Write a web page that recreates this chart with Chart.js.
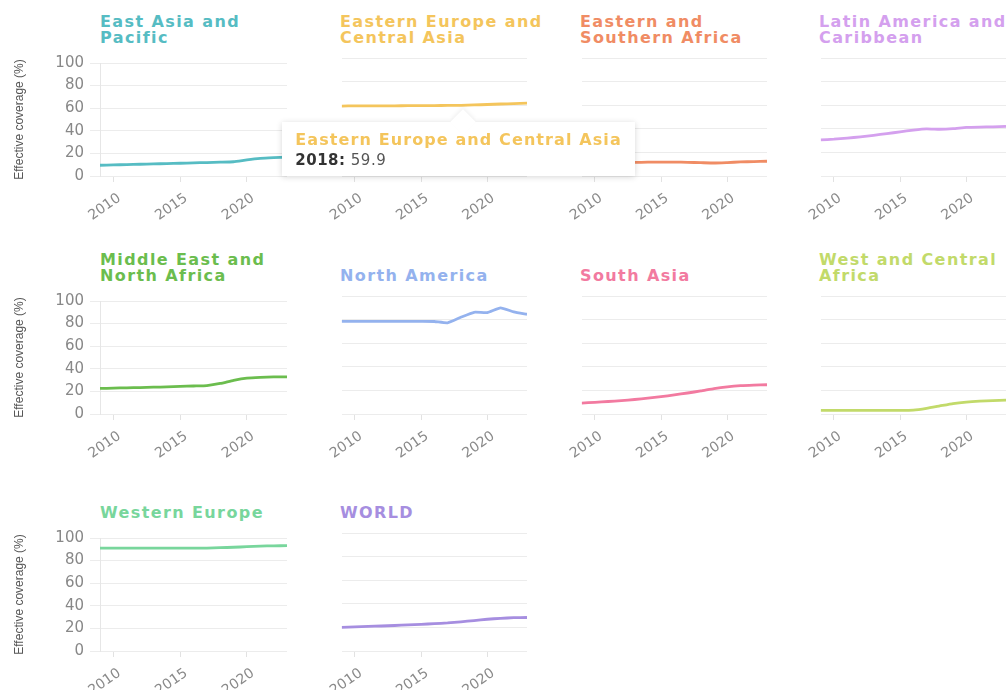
<!DOCTYPE html>
<html>
<head>
<meta charset="utf-8">
<script src="https://cdn.jsdelivr.net/npm/chart.js@4.4.1/dist/chart.umd.min.js"></script>
<style>
  html, body { margin: 0; padding: 0; background: #fff; overflow: hidden; }
  #app { position: relative; width: 1008px; height: 690px; }
  .panel { position: absolute; }
  .panel-title {
    position: absolute; height: 32px; display: flex; flex-direction: column; justify-content: flex-end;
    font-family: 'DejaVu Sans'; font-weight: bold; font-size: 16px; line-height: 16px;
    letter-spacing: 1.4px; white-space: nowrap;
  }
  #tip { position: absolute; z-index: 10; display: none; font-family: 'DejaVu Sans'; }
  #tip .tip-box { position: relative; background: #fff; padding: 10px 13px 6px; box-shadow: 0 1px 6px rgba(0,0,0,0.16); white-space: nowrap; }
  #tip .tip-caret { position: absolute; top: -9px; width: 18px; height: 18px; background: #fff; transform: rotate(45deg); box-shadow: -2px -2px 4px rgba(0,0,0,0.05); }
  .tip-title { font-weight: bold; font-size: 16px; line-height: 16px; letter-spacing: 1.1px; }
  .tip-body { margin-top: 2px; font-size: 15px; line-height: 20px; color: #555; letter-spacing: 0.5px; }
  .tip-year { font-weight: bold; color: #333; }
</style>
</head>
<body>
<div id="app">
  <div id="tip">
    <div class="tip-box">
      <div class="tip-title"></div>
      <div class="tip-body"><span class="tip-year"></span><span class="tip-value"></span></div>
    </div>
    <div class="tip-caret"></div>
  </div>
</div>
<script>
// data
const years = [2009, 2010, 2011, 2012, 2013, 2014, 2015, 2016, 2017, 2018, 2019, 2020, 2021, 2022, 2023];
const xTicks = [2010, 2015, 2020];
const yTicks = [0, 20, 40, 60, 80, 100];

const regions = [
  'East Asia and Pacific', 'Eastern Europe and Central Asia', 'Eastern and Southern Africa', 'Latin America and Caribbean',
  'Middle East and North Africa', 'North America', 'South Asia', 'West and Central Africa',
  'Western Europe', 'WORLD'
];
const titleLines = [
  ['East Asia and', 'Pacific'], ['Eastern Europe and', 'Central Asia'], ['Eastern and', 'Southern Africa'], ['Latin America and', 'Caribbean'],
  ['Middle East and', 'North Africa'], ['North America'], ['South Asia'], ['West and Central', 'Africa'],
  ['Western Europe'], ['WORLD']
];

const eastAsiaPacific = [9.5, 9.8, 10.1, 10.4, 10.7, 11.0, 11.3, 11.6, 11.9, 12.2, 12.6, 14.3, 15.6, 16.2, 16.6];
const easternEuropeCentralAsia = [59.3, 59.4, 59.4, 59.5, 59.5, 59.6, 59.6, 59.7, 59.8, 59.9, 60.2, 60.6, 61.0, 61.4, 61.8];
const easternSouthernAfrica = [10.6, 10.9, 11.1, 11.3, 11.5, 11.7, 11.8, 11.8, 11.6, 11.3, 11.0, 11.4, 11.9, 12.2, 12.5];
const latinAmericaCaribbean = [30.6, 31.2, 32.1, 33.2, 34.5, 35.9, 37.4, 38.9, 40.0, 39.6, 40.1, 41.2, 41.5, 41.6, 42.0];
const middleEastNorthAfrica = [22.6, 22.9, 23.2, 23.4, 23.7, 24.0, 24.4, 24.8, 25.2, 27.0, 29.8, 31.8, 32.5, 32.8, 32.9];
const northAmerica = [78.5, 78.5, 78.5, 78.5, 78.5, 78.5, 78.5, 78.4, 77.3, 82.0, 86.2, 86.0, 90.0, 86.5, 84.5];
const southAsia = [9.3, 9.9, 10.6, 11.4, 12.3, 13.4, 14.7, 16.2, 17.8, 19.5, 21.5, 23.0, 24.0, 24.5, 24.8];
const westCentralAfrica = [3.0, 3.0, 3.0, 3.0, 3.0, 3.0, 3.0, 3.3, 4.8, 6.8, 8.8, 10.1, 10.9, 11.4, 11.8];
const westernEurope = [91.0, 91.0, 91.0, 91.0, 91.0, 91.0, 91.0, 91.0, 91.1, 91.4, 91.8, 92.3, 92.8, 93.1, 93.2];
const world = [20.0, 20.4, 20.8, 21.2, 21.6, 22.1, 22.6, 23.2, 23.8, 24.7, 25.8, 26.9, 27.7, 28.2, 28.4];

const seriesValues = [
  eastAsiaPacific, easternEuropeCentralAsia, easternSouthernAfrica, latinAmericaCaribbean,
  middleEastNorthAfrica, northAmerica, southAsia, westCentralAfrica, westernEurope, world
];

// tooltip shown in the picture
const tooltipRegion = 1;
const tooltipYear = 2018;

// styles / layout
const regionColors = ['#56bcc3', '#f4c55c', '#f08c64', '#d4a0ee', '#6bbd4e', '#94b2ee', '#f27aa0', '#c2da6a', '#78d69c', '#a68ee0'];
const colLeft = [100, 340, 580, 819];
const rowTop = [58, 296, 533];
const plotW = 187, plotH = 118, padTop = 10, axisH = 50, padRight = 16;

function showTip(context) {
  const { chart, tooltip } = context;
  const tip = document.getElementById('tip');
  if (!tooltip.opacity || !tooltip.dataPoints || !tooltip.dataPoints.length) {
    tip.style.display = 'none';
    return;
  }
  const dp = tooltip.dataPoints[0];
  const title = tip.querySelector('.tip-title');
  title.textContent = dp.dataset.label;
  title.style.color = dp.dataset.borderColor;
  tip.querySelector('.tip-year').textContent = dp.parsed.x + ':';
  tip.querySelector('.tip-value').textContent = ' ' + dp.parsed.y.toFixed(1);
  tip.style.display = 'block';
  const panel = chart.canvas.parentNode;
  const px = panel.offsetLeft + tooltip.caretX;
  const py = panel.offsetTop + tooltip.caretY;
  const w = tip.offsetWidth;
  const left = px - w / 2 - 2;
  tip.style.left = left + 'px';
  tip.style.top = (py + 17) + 'px';
  tip.querySelector('.tip-caret').style.left = (px - left - 7) + 'px';
}

function buildPanel(i) {
  const col = i % 4, row = Math.floor(i / 4);
  const first = col === 0;
  const yW = first ? colLeft[0] : 24;
  const W = yW + plotW + padRight, H = padTop + plotH + axisH;

  const panel = document.createElement('div');
  panel.className = 'panel';
  panel.style.left = (colLeft[col] - yW) + 'px';
  panel.style.top = (rowTop[row] - padTop) + 'px';
  const canvas = document.createElement('canvas');
  canvas.width = W;
  canvas.height = H;
  panel.appendChild(canvas);
  document.getElementById('app').appendChild(panel);

  const title = document.createElement('div');
  title.className = 'panel-title';
  title.style.left = colLeft[col] + 'px';
  title.style.top = (rowTop[row] - 44) + 'px';
  title.style.color = regionColors[i];
  titleLines[i].forEach(line => {
    const span = document.createElement('span');
    span.textContent = line;
    title.appendChild(span);
  });
  document.getElementById('app').appendChild(title);

  return new Chart(canvas, {
    type: 'line',
    data: {
      datasets: [{
        label: regions[i],
        data: years.map((y, k) => ({ x: y, y: seriesValues[i][k] })),
        borderColor: regionColors[i],
        borderWidth: 2.8,
        pointRadius: 0,
        pointHoverRadius: 0,
        tension: 0.15
      }]
    },
    options: {
      responsive: false,
      animation: false,
      devicePixelRatio: 1,
      events: [],
      layout: { padding: { top: padTop, right: padRight, left: 0, bottom: 0 } },
      plugins: {
        legend: { display: false },
        title: { display: false },
        tooltip: { enabled: false, external: showTip }
      },
      scales: {
        x: {
          type: 'linear',
          min: years[0],
          max: years[years.length - 1],
          afterBuildTicks: s => { s.ticks = xTicks.map(v => ({ value: v })); },
          afterFit: s => { s.height = axisH; },
          ticks: {
            color: '#8a8a8a',
            font: { family: 'DejaVu Sans', size: 14 },
            minRotation: 35, maxRotation: 35,
            padding: 8,
            labelOffset: 6,
            callback: v => String(v)
          },
          grid: { drawOnChartArea: false, drawTicks: true, tickLength: 6, color: '#e2e2e2' },
          border: { display: false }
        },
        y: {
          min: 0,
          max: 100,
          afterBuildTicks: s => { s.ticks = yTicks.map(v => ({ value: v })); },
          afterFit: s => { s.width = yW; },
          ticks: { display: first, color: '#888', font: { family: 'DejaVu Sans', size: 15 }, padding: 6 },
          grid: { color: '#ececec', drawTicks: first, tickLength: 10 },
          border: { display: first, color: '#e6e6e6' },
          title: {
            display: first,
            text: 'Effective coverage (%)',
            color: '#555',
            font: { family: "'Liberation Sans Narrow', 'Liberation Sans'", size: 12 },
            padding: { top: 12, bottom: 0 }
          }
        }
      }
    }
  });
}

const charts = regions.map((r, i) => buildPanel(i));

const tipChart = charts[tooltipRegion];
tipChart.tooltip.setActiveElements([{ datasetIndex: 0, index: years.indexOf(tooltipYear) }], { x: 0, y: 0 });
tipChart.update();
</script>
</body>
</html>
